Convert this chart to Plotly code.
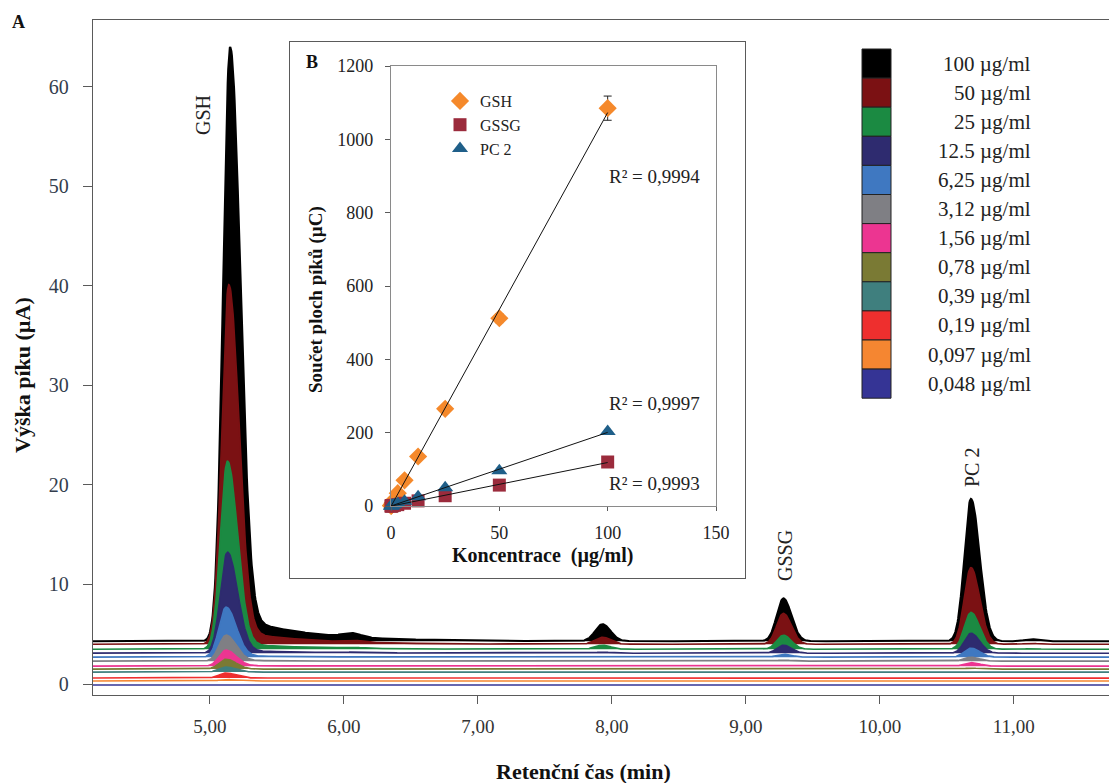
import numpy as np
import plotly.graph_objects as go

# page body adds an 8px margin: positions below are given in screen pixels
OFF = 8
W, H = 1117, 783 - OFF

# ---------------- Panel A: chromatograms ----------------
conc_labels = ["100 µg/ml", "50 µg/ml", "25 µg/ml", "12.5 µg/ml", "6,25 µg/ml",
               "3,12 µg/ml", "1,56 µg/ml", "0,78 µg/ml", "0,39 µg/ml",
               "0,19 µg/ml", "0,097 µg/ml", "0,048 µg/ml"]
trace_colors = ["#000000", "#7B1113", "#1B8A42", "#2E2B6F", "#3F78C1", "#7F7F84",
                "#EC3591", "#7A7A34", "#3F7F7E", "#EE2F2E", "#F58631", "#353495"]
baselines = [4.3, 4.0, 3.5, 3.1, 2.7, 2.3, 1.8, 1.5, 1.2, 0.6, 0.3, -0.1]

gsh_rt = [5.15, 5.14, 5.13, 5.13, 5.12, 5.12, 5.12, 5.12, 5.12, 5.12, 5.12, 5.12]
gsh_heights = [59.3, 35.9, 18.8, 10.1, 5.0, 2.6, 1.6, 1.0, 0.5, 0.5, 0.15, 0.05]
gsh_tail = [2.4, 1.3, 0.6, 0.3, 0.15, 0.08, 0.05, 0.0, 0.0, 0.0, 0.0, 0.0]
peak_605 = [0.4, 0.2, 0.1, 0.05, 0.0, 0.0, 0.0, 0.0, 0.0, 0.0, 0.0, 0.0]
peak_793 = [1.7, 0.7, 0.4, 0.1, 0.05, 0.0, 0.0, 0.0, 0.0, 0.0, 0.0, 0.0]
gssg_heights = [4.3, 3.1, 1.4, 0.8, 0.3, 0.1, 0.05, 0.0, 0.0, 0.0, 0.0, 0.0]
pc2_heights = [14.3, 7.7, 3.7, 2.0, 0.9, 0.4, 0.35, 0.1, 0.05, 0.0, 0.0, 0.0]
peak_1113 = [0.2, 0.1, 0.05, 0.0, 0.0, 0.0, 0.0, 0.0, 0.0, 0.0, 0.0, 0.0]

rt_605, rt_793, rt_gssg, rt_pc2, rt_1113 = 6.06, 7.93, 9.28, 10.68, 11.13

x_tickvals = [5, 6, 7, 8, 9, 10, 11]
x_ticktext = ["5,00", "6,00", "7,00", "8,00", "9,00", "10,00", "11,00"]
y_tickvals = [0, 10, 20, 30, 40, 50, 60]

# ---------------- Panel B: calibration ----------------
inset_conc = [0.048, 0.097, 0.19, 0.39, 0.78, 1.56, 3.12, 6.25, 12.5, 25, 50, 100]
gsh_area = [0.5, 1.0, 2.0, 4.0, 8.5, 17, 35, 70, 135, 265, 512, 1085]
gsh_err = [0.1, 0.1, 0.2, 0.3, 0.5, 1, 2, 3, 5, 8, 12, 33]
gssg_area = [0.1, 0.1, 0.2, 0.5, 0.9, 1.8, 3.7, 7.5, 14, 28, 57, 120]
pc2_area = [0.2, 0.3, 0.5, 1.0, 2.0, 4.0, 7.0, 13, 25, 50, 96, 203]
r2_labels = ["R² = 0,9994", "R² = 0,9997", "R² = 0,9993"]

FONT = "Liberation Serif"


def asym_gauss(t, rt, h, sl, sr):
    s = np.where(t < rt, sl, sr)
    return h * np.exp(-0.5 * ((t - rt) / s) ** 2)


def tail(t, rt, a, tau=0.5):
    u = t - rt - 0.05
    return a * np.exp(-np.clip(u, 0, None) / tau) / (1 + np.exp(-u / 0.03))


t = np.arange(4.1, 11.8, 0.004)

fig = go.Figure()

for i in range(len(conc_labels)):
    b = baselines[i]
    sig = (asym_gauss(t, gsh_rt[i], gsh_heights[i], 0.052, 0.075)
           + tail(t, gsh_rt[i], gsh_tail[i])
           + asym_gauss(t, rt_605, peak_605[i], 0.07, 0.07)
           + asym_gauss(t, rt_793, peak_793[i], 0.055, 0.06)
           + asym_gauss(t, rt_gssg, gssg_heights[i], 0.05, 0.06)
           + asym_gauss(t, rt_pc2, pc2_heights[i], 0.05, 0.065)
           + asym_gauss(t, rt_1113, peak_1113[i], 0.05, 0.05))
    fig.add_trace(go.Scatter(x=t, y=np.full_like(t, b), mode="lines",
                             line=dict(width=0, color=trace_colors[i]),
                             showlegend=False, hoverinfo="skip"))
    fig.add_trace(go.Scatter(x=t, y=b + sig, mode="lines", fill="tonexty",
                             fillcolor=trace_colors[i],
                             line=dict(width=2.0 if i == 0 else 1.6, color=trace_colors[i]),
                             name=conc_labels[i], showlegend=False, hoverinfo="skip"))

# dummy subplot giving the white framed box of the inset
fig.add_trace(go.Scatter(x=[None], y=[None], xaxis="x2", yaxis="y2",
                         showlegend=False, hoverinfo="skip"))

# inset data
fig.add_trace(go.Scatter(x=inset_conc, y=gsh_area, mode="markers", name="GSH",
                         xaxis="x3", yaxis="y3", cliponaxis=False,
                         marker=dict(symbol="diamond", size=14, color="#F5892B"),
                         error_y=dict(type="data", array=gsh_err, visible=True,
                                      color="#222", thickness=1, width=4)))
fig.add_trace(go.Scatter(x=inset_conc, y=gssg_area, mode="markers", name="GSSG",
                         xaxis="x3", yaxis="y3", cliponaxis=False,
                         marker=dict(symbol="square", size=13, color="#9B2B3C")))
fig.add_trace(go.Scatter(x=inset_conc, y=pc2_area, mode="markers", name="PC 2",
                         xaxis="x3", yaxis="y3", cliponaxis=False,
                         marker=dict(symbol="triangle-up", size=14, color="#1F5F89")))

for series in (gsh_area, pc2_area, gssg_area):
    k, q = np.polyfit(inset_conc, series, 1)
    xs = np.array([min(inset_conc), max(inset_conc)])
    fig.add_trace(go.Scatter(x=xs, y=k * xs + q, mode="lines", xaxis="x3", yaxis="y3",
                             line=dict(color="#111", width=1), showlegend=False,
                             hoverinfo="skip"))

axcol = "#5A5A5A"


def px_x(p):
    return (p - OFF) / W


def px_y(p):
    return 1 - (p - OFF) / H


fig.update_layout(
    width=W, height=H, margin=dict(l=0, r=0, t=0, b=0, autoexpand=False),
    paper_bgcolor="white", plot_bgcolor="white",
    font=dict(family=FONT, color="#222"),
    xaxis=dict(domain=[px_x(93), px_x(1117)], range=[4.127, 11.77], tickvals=x_tickvals,
               ticktext=x_ticktext, ticks="outside", ticklen=8, tickcolor=axcol,
               showline=True, linecolor=axcol, linewidth=1.3, mirror=True,
               showgrid=False, zeroline=False, ticklabelstandoff=6, automargin=False,
               tickfont=dict(family=FONT, size=19, color="#333")),
    yaxis=dict(domain=[px_y(695), px_y(20)], range=[-1.1, 66.7], tickvals=y_tickvals,
               ticks="outside", ticklen=9, tickcolor=axcol, showline=True,
               linecolor=axcol, linewidth=1.3, showgrid=False, zeroline=False,
               ticklabelstandoff=10, automargin=False,
               tickfont=dict(family=FONT, size=20, color="#333D4D")),
    xaxis2=dict(domain=[px_x(290), px_x(745)], range=[0, 1], anchor="y2",
                showline=True, mirror=True, linecolor=axcol, linewidth=1.3,
                showticklabels=False, ticks="", showgrid=False, zeroline=False,
                automargin=False),
    yaxis2=dict(domain=[px_y(578), px_y(42)], range=[0, 1], anchor="x2",
                showline=True, mirror=True, linecolor=axcol, linewidth=1.3,
                showticklabels=False, ticks="", showgrid=False, zeroline=False,
                automargin=False),
    xaxis3=dict(domain=[px_x(391), px_x(716)], range=[0, 150], anchor="y3",
                tickvals=[0, 50, 100, 150], ticks="outside", ticklen=4, tickcolor=axcol,
                showline=True, mirror=True, linecolor="#8A8A8A", linewidth=1.2,
                showgrid=False, zeroline=False, ticklabelstandoff=6, automargin=False,
                tickfont=dict(family=FONT, size=18, color="#222")),
    yaxis3=dict(domain=[px_y(506), px_y(66)], range=[0, 1200], anchor="x3",
                tickvals=[0, 200, 400, 600, 800, 1000, 1200], ticks="outside",
                ticklen=5, tickcolor=axcol, showline=True, mirror=True,
                linecolor="#8A8A8A", linewidth=1.2, showgrid=False, zeroline=False,
                ticklabelstandoff=8, automargin=False,
                tickfont=dict(family=FONT, size=18, color="#222")),
    showlegend=True,
    legend=dict(x=px_x(440), y=px_y(84), xanchor="left", yanchor="top",
                traceorder="normal",
                bgcolor="rgba(0,0,0,0)", font=dict(family=FONT, size=16, color="#222"),
                tracegroupgap=0, itemwidth=30),
)

ann = []


def add_text(txt, xp, yp, size, angle=0, xanchor="center", color="#222"):
    ann.append(dict(text=txt, x=px_x(xp), y=px_y(yp), xref="paper", yref="paper",
                    xanchor=xanchor, yanchor="middle", showarrow=False,
                    textangle=angle, font=dict(family=FONT, size=size, color=color)))


add_text("<b>A</b>", 18, 22, 18, color="#111")
add_text("<b>B</b>", 312, 62, 18, color="#111")
add_text("<b>Výška píku (µA)</b>", 22, 375, 22, angle=-90, color="#111")
add_text("<b>Retenční čas (min)</b>", 583, 771, 22, color="#111")
add_text("<b>Součet ploch píků (µC)</b>", 316, 300, 19, angle=-90, color="#111")
add_text("<b>Koncentrace  (µg/ml)</b>", 542, 555, 20, color="#111")
for txt, xp, yp in (("GSH", 203, 115), ("GSSG", 785, 556), ("PC 2", 972, 468)):
    add_text(txt, xp, yp, 20, angle=-90)
for txt, yp in zip(r2_labels, (176, 403, 483)):
    add_text(txt, 654, yp, 19)

shapes = []
top, step = 49.0, 29.1
for i, lab in enumerate(conc_labels):
    y0 = top + i * step
    shapes.append(dict(type="rect", xref="paper", yref="paper",
                       x0=px_x(862), x1=px_x(891), y0=px_y(y0 + step), y1=px_y(y0),
                       fillcolor=trace_colors[i], line=dict(color="#222", width=1)))
    add_text(lab, 1033, y0 + step / 2, 21, xanchor="right")

fig.update_layout(annotations=ann, shapes=shapes)

fig.write_html("out.html")
